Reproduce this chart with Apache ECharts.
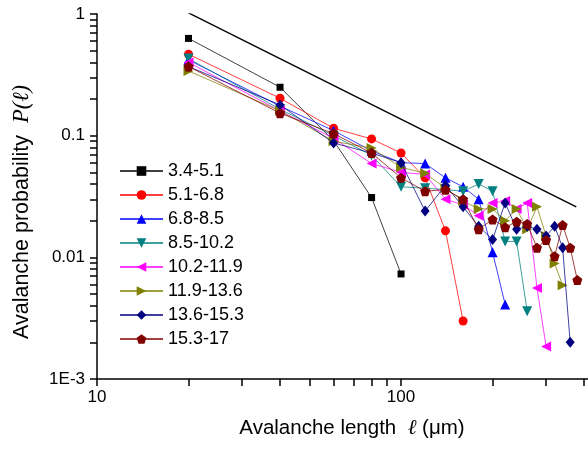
<!DOCTYPE html>
<html><head><meta charset="utf-8">
<script src="https://cdn.jsdelivr.net/npm/echarts@6/dist/echarts.min.js"></script>
<style>html,body{margin:0;padding:0;background:#fff}#c{width:588px;height:452px}</style>
</head><body><div id="c"></div>
<script>
// avalanche lengths (µm) sampled every 20 µm
const lengths = [20,40,60,80,100,120,140,160,180,200,220,240,260,280,300,320,340,360,380];
const seriesNames = ['3.4-5.1','5.1-6.8','6.8-8.5','8.5-10.2','10.2-11.9','11.9-13.6','13.6-15.3','15.3-17'];
const s34_51   = [0.63,0.25,0.091,0.031,0.0073];
const s51_68   = [0.467,0.203,0.115,0.094,0.072,0.045,0.0165,0.0030];
const s68_85   = [0.42,0.175,0.11,0.075,0.06,0.059,0.045,0.038,0.030,0.011,0.0041];
const s85_102  = [0.43,0.165,0.10,0.069,0.038,0.037,0.036,0.035,0.040,0.035,0.0135,0.0135,0.0036];
const s102_119 = [0.40,0.16,0.095,0.059,0.050,0.048,0.030,0.027,0.022,0.028,0.029,0.025,0.028,0.0056,0.00185];
const s119_136 = [0.34,0.16,0.09,0.079,0.055,0.049,0.037,0.029,0.025,0.025,0.020,0.025,0.017,0.026,0.015,0.0089,0.0059];
const s136_153 = [0.37,0.179,0.087,0.072,0.060,0.024,0.039,0.026,0.018,0.014,0.028,0.017,0.018,0.017,0.015,0.018,0.012,0.002];
const s153_17  = [0.37,0.153,0.104,0.072,0.045,0.035,0.036,0.030,0.017,0.0205,0.0177,0.0196,0.0188,0.012,0.0139,0.0102,0.0184,0.012,0.0065];
const allValues = [s34_51,s51_68,s68_85,s85_102,s102_119,s119_136,s136_153,s153_17];
// guide power-law line end points
const guideX = [20, 377];
const guideY = [1.02, 0.026];
// ticks
const xMajorTicks = [10, 100];
const xMajorLabels = ['10', '100'];
const xAllTicks = [10,20,30,40,50,60,70,80,90,100,200,300,400];
const yMajorTicks = [0.001, 0.01, 0.1, 1];
const yMajorLabels = ['1E-3', '0.01', '0.1', '1'];
const yAllTicks = [0.001,0.002,0.003,0.004,0.005,0.006,0.007,0.008,0.009,0.01,0.02,0.03,0.04,0.05,0.06,0.07,0.08,0.09,0.1,0.2,0.3,0.4,0.5,0.6,0.7,0.8,0.9,1];

const colors = ['#000000','#ff0000','#0000ff','#008080','#ff00ff','#808000','#000080','#800000'];
const symbols = ['rect','circle','triangle',
  'path://M0,0 L10,0 L5,9 Z',
  'path://M0,5 L9,0 L9,10 Z',
  'path://M0,0 L9,5 L0,10 Z',
  'diamond',
  'path://M5,0 L9.755,3.455 L7.939,9.045 L2.061,9.045 L0.245,3.455 Z'];
const sizes = [7,9,10,10,10,10,[9,11],10];

const FONT = 'Arial, "Liberation Sans", sans-serif';
const SERIF = '"Liberation Serif", "Times New Roman", serif';
const chart = echarts.init(document.getElementById('c'), null, {renderer:'canvas'});

const series = seriesNames.map((name, i) => ({
  name, type:'line', xAxisIndex:0, yAxisIndex:0,
  data: allValues[i].map((v, j) => [lengths[j], v]),
  symbol: symbols[i], symbolSize: sizes[i],
  itemStyle: {color: colors[i]},
  lineStyle: {color: colors[i], width: 1, opacity: 0.75},
  emphasis: {disabled: true}, animation: false, z: 3 + i
}));
series.push({
  name:'guide', type:'line', xAxisIndex:0, yAxisIndex:0,
  data: guideX.map((x, k) => [x, guideY[k]]),
  symbol:'none', lineStyle:{color:'#000', width:1.5}, animation:false, z:2
});

function labelFor(ticks, labels) {
  return v => { for (let k = 0; k < ticks.length; k++) if (Math.abs(v - ticks[k]) / ticks[k] < 1e-6) return labels[k]; return ''; };
}

const axisLineStyle = {color:'#000', width:1.5};
chart.setOption({
  animation:false,
  backgroundColor:'#fff',
  grid:{left:97, right:0, top:14, bottom:73, containLabel:false},
  legend:{
    data: seriesNames, orient:'vertical', left:119, top:162, padding:0,
    itemWidth:43, itemHeight:12, itemGap:6,
    textStyle:{fontFamily:FONT, fontSize:18, color:'#000'},
    selectedMode:false
  },
  xAxis:{type:'log', logBase:10, min:10, max:412, position:'bottom',
     axisLine:{show:true, onZero:false, lineStyle:axisLineStyle},
     axisTick:{show:true, length:7, customValues:xAllTicks, lineStyle:axisLineStyle},
     axisLabel:{show:true, customValues:xMajorTicks, formatter:labelFor(xMajorTicks, xMajorLabels), fontFamily:FONT, fontSize:17, color:'#000', margin:10},
     splitLine:{show:false}},
  yAxis:{type:'log', logBase:10, min:0.001, max:1, position:'left',
     axisLine:{show:true, onZero:false, lineStyle:axisLineStyle},
     axisTick:{show:true, length:7, customValues:yAllTicks, lineStyle:axisLineStyle},
     axisLabel:{show:true, customValues:yMajorTicks, formatter:labelFor(yMajorTicks, yMajorLabels), fontFamily:FONT, fontSize:17, color:'#000', margin:12},
     splitLine:{show:false}},
  graphic:[
    {type:'text', x:352, y:428, silent:true,
     style:{text:'{a|Avalanche length  }{i|ℓ}{a| (μm)}', align:'center', verticalAlign:'middle',
       rich:{a:{fontFamily:FONT, fontSize:20.5, fill:'#000'}, i:{fontFamily:SERIF, fontStyle:'italic', fontSize:21, fill:'#000'}}}},
    {type:'text', x:22, y:212, rotation:Math.PI/2, silent:true,
     style:{text:'{a|Avalanche probability  }{i|P(ℓ)}', align:'center', verticalAlign:'middle',
       rich:{a:{fontFamily:FONT, fontSize:21.5, fill:'#000'}, i:{fontFamily:SERIF, fontStyle:'italic', fontSize:22.5, fill:'#000'}}}}
  ],
  series
});
</script></body></html>
